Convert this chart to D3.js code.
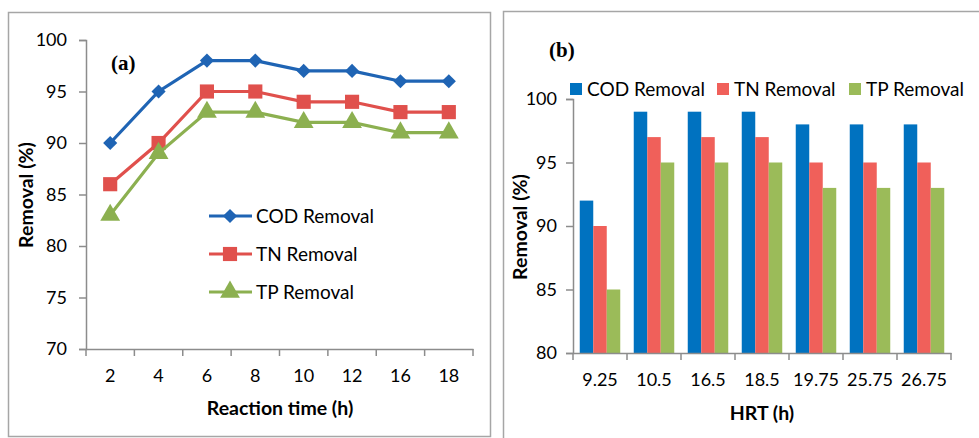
<!DOCTYPE html>
<html>
<head>
<meta charset="utf-8">
<script src="https://cdnjs.cloudflare.com/ajax/libs/d3/7.8.5/d3.min.js"></script>
<style>
  body { margin: 0; background: #fff; }
  svg { display: block; font-family: Lato, "Open Sans", sans-serif; }
</style>
</head>
<body>
<svg id="chart" width="979" height="438"></svg>
<script>
// panel (a) data
const timeLabels = ["2", "4", "6", "8", "10", "12", "16", "18"];
const codLine = [90, 95, 98, 98, 97, 97, 96, 96];
const tnLine = [86, 90, 95, 95, 94, 94, 93, 93];
const tpLine = [83, 89, 93, 93, 92, 92, 91, 91];
const yTicksA = [70, 75, 80, 85, 90, 95, 100];

// panel (b) data
const hrtLabels = ["9.25", "10.5", "16.5", "18.5", "19.75", "25.75", "26.75"];
const codBar = [92, 99, 99, 99, 98, 98, 98];
const tnBar = [90, 97, 97, 97, 95, 95, 95];
const tpBar = [85, 95, 95, 95, 93, 93, 93];
const yTicksB = [80, 85, 90, 95, 100];

const seriesNames = ["COD Removal", "TN Removal", "TP Removal"];
const lineColors = ["#1f64b4", "#e0504c", "#8cb050"];
const barColors = ["#0072c0", "#f0605a", "#9bbb59"];

const svg = d3.select("#chart");

// frames
svg.append("rect").attr("x", 8.5).attr("y", 12.5).attr("width", 482).attr("height", 424)
  .attr("fill", "none").attr("stroke", "#a6a6a6").attr("stroke-width", 1.5);
svg.append("rect").attr("x", 503.5).attr("y", 11.5).attr("width", 490).attr("height", 440)
  .attr("fill", "none").attr("stroke", "#a6a6a6").attr("stroke-width", 1.5);

function styleAxis(a) {
  a.select(".domain").attr("stroke", "#8c8c8c").attr("stroke-width", 1.5);
  a.selectAll(".tick line").attr("stroke", "#8c8c8c").attr("stroke-width", 1.5);
  a.selectAll("text").style("font-family", "Lato, sans-serif").style("font-size", "18px").attr("fill", "#000");
}

// PANEL A
function drawLinePanel() {
  const x = d3.scaleBand().domain(timeLabels).range([86, 473]);
  const y = d3.scaleLinear().domain([70, 100]).range([349, 40]);
  const g = svg.append("g");

  const yAxis = g.append("g").attr("transform", "translate(86,0)")
    .call(d3.axisLeft(y).tickValues(yTicksA).tickSize(7).tickPadding(12));
  const xAxis = g.append("g").attr("transform", "translate(0,349)")
    .call(d3.axisBottom(x).tickSize(0).tickPadding(20));
  // ticks between categories
  xAxis.selectAll(".sep").data(timeLabels.concat(["end"])).enter().append("line")
    .attr("x1", (d, i) => 86 + i * x.bandwidth()).attr("x2", (d, i) => 86 + i * x.bandwidth())
    .attr("y1", 0).attr("y2", 7).attr("stroke", "#8c8c8c").attr("stroke-width", 1.5);
  styleAxis(yAxis);
  styleAxis(xAxis);

  const series = [codLine, tnLine, tpLine];
  const line = d3.line().x((d, i) => x(timeLabels[i]) + x.bandwidth() / 2).y(d => y(d));
  // diamond = square turned 45 degrees
  const symbols = [d3.symbolSquare, d3.symbolSquare, d3.symbolTriangle];
  const sizes = [100, 200, 170];
  const turn = k => (k === 0 ? " rotate(45)" : "");

  series.forEach((s, k) => {
    g.append("path").datum(s).attr("fill", "none").attr("stroke", lineColors[k])
      .attr("stroke-width", 3.2).attr("d", line);
    g.selectAll(".m" + k).data(s).enter().append("path")
      .attr("transform", (d, i) => `translate(${x(timeLabels[i]) + x.bandwidth() / 2},${y(d)})` + turn(k))
      .attr("d", d3.symbol().type(symbols[k]).size(sizes[k]))
      .attr("fill", lineColors[k]);
  });

  // legend
  seriesNames.forEach((name, k) => {
    const ly = 216 + k * 38;
    g.append("line").attr("x1", 209).attr("x2", 252).attr("y1", ly).attr("y2", ly)
      .attr("stroke", lineColors[k]).attr("stroke-width", 3.2);
    g.append("path").attr("transform", `translate(230,${ly})` + turn(k))
      .attr("d", d3.symbol().type(symbols[k]).size(sizes[k])).attr("fill", lineColors[k]);
    g.append("text").attr("x", 256).attr("y", ly).attr("dy", "0.35em")
      .style("font-size", "19px").text(name);
  });

  g.append("text").attr("x", 111).attr("y", 70)
    .style("font-family", "'Liberation Serif', 'Times New Roman', serif")
    .style("font-weight", "bold").style("font-size", "21px").text("(a)");

  g.append("text").attr("x", 280).attr("y", 415).attr("text-anchor", "middle")
    .style("font-weight", "bold").style("font-size", "19.5px").text("Reaction time (h)");
  g.append("text").attr("transform", "translate(33,195) rotate(-90)").attr("text-anchor", "middle")
    .style("font-weight", "bold").style("font-size", "19.5px").text("Removal (%)");
}

// PANEL B
function drawBarPanel() {
  const x = d3.scaleBand().domain(hrtLabels).range([573, 951]);
  const inner = d3.scaleBand().domain(seriesNames).range([0, x.bandwidth()]).paddingOuter(0.5).paddingInner(0);
  const y = d3.scaleLinear().domain([80, 100]).range([353, 99]);
  const g = svg.append("g");

  const series = [codBar, tnBar, tpBar];
  series.forEach((s, k) => {
    g.selectAll(".b" + k).data(s).enter().append("rect")
      .attr("x", (d, i) => x(hrtLabels[i]) + inner(seriesNames[k]))
      .attr("width", inner.bandwidth())
      .attr("y", d => y(d))
      .attr("height", d => y(80) - y(d))
      .attr("fill", barColors[k]);
  });

  const yAxis = g.append("g").attr("transform", "translate(573,0)")
    .call(d3.axisLeft(y).tickValues(yTicksB).tickSize(7).tickPadding(9));
  const xAxis = g.append("g").attr("transform", "translate(0,353)")
    .call(d3.axisBottom(x).tickSize(0).tickPadding(20));
  xAxis.selectAll(".sep").data(hrtLabels.concat(["end"])).enter().append("line")
    .attr("x1", (d, i) => 573 + i * x.bandwidth()).attr("x2", (d, i) => 573 + i * x.bandwidth())
    .attr("y1", 0).attr("y2", 7).attr("stroke", "#8c8c8c").attr("stroke-width", 1.5);
  styleAxis(yAxis);
  styleAxis(xAxis);

  // legend
  const legX = [570, 717, 849];
  seriesNames.forEach((name, k) => {
    g.append("rect").attr("x", legX[k]).attr("y", 83).attr("width", 12).attr("height", 12).attr("fill", barColors[k]);
    g.append("text").attr("x", legX[k] + 17).attr("y", 89).attr("dy", "0.35em")
      .style("font-size", "19px").text(name);
  });

  g.append("text").attr("x", 549).attr("y", 57)
    .style("font-family", "'Liberation Serif', 'Times New Roman', serif")
    .style("font-weight", "bold").style("font-size", "21px").text("(b)");

  g.append("text").attr("x", 762).attr("y", 420).attr("text-anchor", "middle")
    .style("font-weight", "bold").style("font-size", "19.5px").text("HRT (h)");
  g.append("text").attr("transform", "translate(527,227) rotate(-90)").attr("text-anchor", "middle")
    .style("font-weight", "bold").style("font-size", "19.5px").text("Removal (%)");
}

drawLinePanel();
drawBarPanel();
</script>
</body>
</html>
